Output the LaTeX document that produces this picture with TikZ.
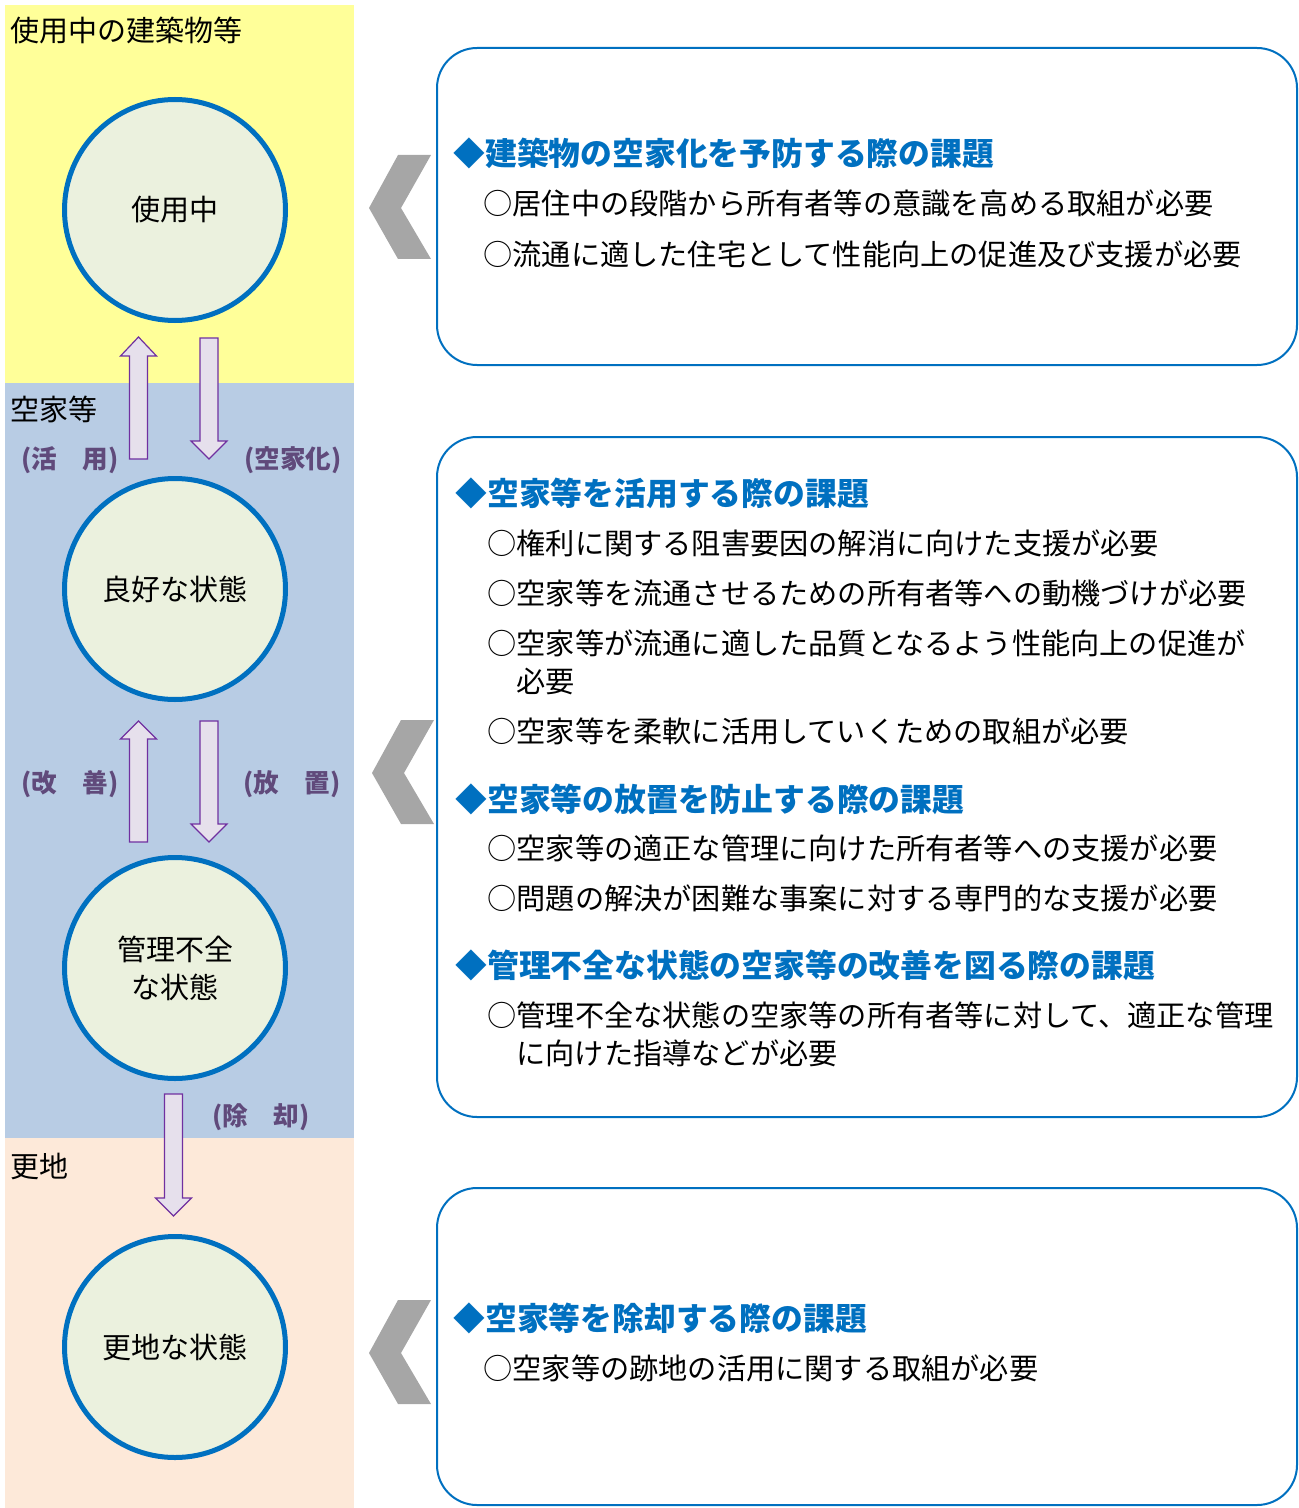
\documentclass[tikz,border=0pt]{standalone}
\usepackage{fontspec}
\setmainfont{Noto Sans CJK JP}
\definecolor{cblue}{HTML}{0070C0}
\definecolor{cfill}{HTML}{EBF1DE}
\definecolor{afill}{HTML}{E6E0EC}
\definecolor{aline}{HTML}{7030A0}
\definecolor{clab}{HTML}{604A7B}
\definecolor{cgray}{HTML}{A6A6A6}
\definecolor{zyel}{HTML}{FFFF99}
\definecolor{zblu}{HTML}{B8CCE4}
\definecolor{zpch}{HTML}{FDE9D9}
\newcommand{\blkarrow}[4]{% cx, tip, headbase, tail
  \draw[blk] (#1-9,#4) -- (#1-9,#3) -- (#1-18,#3) -- (#1,#2) -- (#1+18,#3) -- (#1+9,#3) -- (#1+9,#4) -- cycle;}
\newcommand{\chevronat}[2]{%
  \fill[chev, shift={(#1,#2)}] (0,0) -- (29,-53) -- (62,-53) -- (32,0) -- (62,51) -- (29,51) -- cycle;}
\begin{document}
\begin{tikzpicture}[x=0.5pt,y=-0.5pt,
  stage/.style={circle, draw=cblue, line width=2.5pt, fill=cfill, minimum size=110.5pt, inner sep=0pt, align=center, font=\fontsize{14.5pt}{19pt}\selectfont},
  blk/.style={fill=afill, draw=aline, line width=0.6pt},
  trans/.style={text=clab, inner sep=0pt, font=\bfseries\fontsize{12.8pt}{14pt}\selectfont},
  zone/.style={anchor=west, inner sep=0pt, font=\fontsize{14.5pt}{17pt}\selectfont},
  panel/.style={draw=cblue, line width=1pt, rounded corners=20pt, fill=white},
  head/.style={text=cblue, anchor=west, inner sep=0pt, font=\bfseries\fontsize{15.9pt}{18pt}\selectfont},
  item/.style={anchor=west, inner sep=0pt, font=\fontsize{14.6pt}{17pt}\selectfont},
  chev/.style={fill=cgray}]
\useasboundingbox (0,0) rectangle (1299,1508);
% zones
\fill[zyel] (5,5) rectangle (354,383);
\fill[zblu] (5,383) rectangle (354,1138);
\fill[zpch] (5,1138) rectangle (354,1508);
\node[zone] (z1) at (10,30) {使用中の建築物等};
\node[zone] (z2) at (10,409) {空家等};
\node[zone] (z3) at (10,1166) {更地};
% stages
\node[stage] (s1) at (175,210) {使用中};
\node[stage] (s2) at (175,589) {良好な状態};
\node[stage] (s3) at (175,968) {管理不全\\な状態};
\node[stage] (s4) at (175,1347) {更地な状態};
% transitions
\blkarrow{138.5}{337}{356}{459}
\blkarrow{209}{459}{441}{338}
\blkarrow{138.5}{721}{739}{842}
\blkarrow{209}{842}{824}{721}
\blkarrow{173.5}{1216}{1198}{1094}
\node[trans] (t1) at (70,460) {(活　用)};
\node[trans] (t2) at (293,460) {(空家化)};
\node[trans] (t3) at (70,784) {(改　善)};
\node[trans] (t4) at (292,784) {(放　置)};
\node[trans] (t5) at (261,1117) {(除　却)};
% chevrons
\chevronat{369}{208}
\chevronat{372}{773}
\chevronat{369}{1353}
% panels
\draw[panel] (437,48) rectangle (1297,365);
\draw[panel] (437,437) rectangle (1297,1117);
\draw[panel] (437,1188) rectangle (1297,1505);
% panel 1
\node[head] (h1) at (453,153) {◆建築物の空家化を予防する際の課題};
\node[item] (i11) at (483,203) {○居住中の段階から所有者等の意識を高める取組が必要};
\node[item] (i12) at (483,254) {○流通に適した住宅として性能向上の促進及び支援が必要};
% panel 2
\node[head] (h2) at (455,493) {◆空家等を活用する際の課題};
\node[item] (i21) at (487,543) {○権利に関する阻害要因の解消に向けた支援が必要};
\node[item] (i22) at (487,593) {○空家等を流通させるための所有者等への動機づけが必要};
\node[item] (i23) at (487,643) {○空家等が流通に適した品質となるよう性能向上の促進が};
\node[item] (i23b) at (516,681) {必要};
\node[item] (i24) at (487,731) {○空家等を柔軟に活用していくための取組が必要};
\node[head] (h3) at (455,799) {◆空家等の放置を防止する際の課題};
\node[item] (i31) at (487,848) {○空家等の適正な管理に向けた所有者等への支援が必要};
\node[item] (i32) at (487,898) {○問題の解決が困難な事案に対する専門的な支援が必要};
\node[head] (h4) at (455,965) {◆管理不全な状態の空家等の改善を図る際の課題};
\node[item] (i41) at (487,1015) {○管理不全な状態の空家等の所有者等に対して、適正な管理};
\node[item] (i41b) at (516,1053) {に向けた指導などが必要};
% panel 3
\node[head] (h5) at (453,1318) {◆空家等を除却する際の課題};
\node[item] (i51) at (483,1368) {○空家等の跡地の活用に関する取組が必要};
\end{tikzpicture}
\end{document}
